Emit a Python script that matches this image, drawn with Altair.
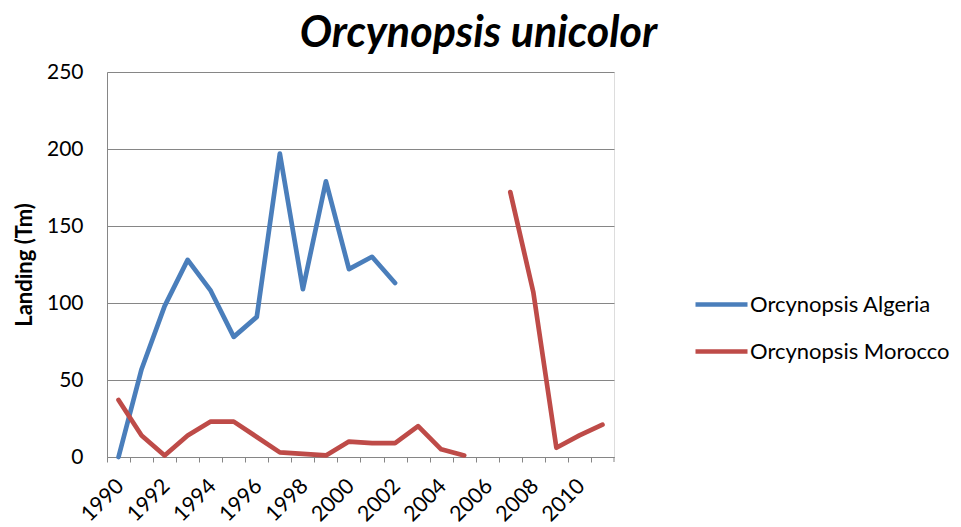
import altair as alt
import pandas as pd

years = list(range(1990, 2012))
algeria = [0, 57, 98, 128, 108, 78, 91, 197, 109, 179, 122, 130, 113,
           None, None, None, None, None, None, None, None, None]
morocco = [37, 14, 1, 14, 23, 23, 13, 3, 2, 1, 10, 9, 9,
           20, 5, 1, None, 172, 107, 6, 14, 21]
series_names = ["Orcynopsis Algeria", "Orcynopsis Morocco"]
series_colors = ["#4A7EBB", "#BE4B48"]

rows = []
seg = 0
for name, vals in zip(series_names, [algeria, morocco]):
    seg += 1
    for y, v in zip(years, vals):
        if v is None:
            seg += 1
            continue
        rows.append({"year": y, "value": v, "series": name, "seg": seg})
df = pd.DataFrame(rows)
end_df = pd.DataFrame({"year": [years[-1]]})

FONT = "Lato"
GRAY = "#868686"
W, H = 507, 385
step = W / 22

xscale = alt.Scale(type="point", domain=years, padding=0.5)

lines = alt.Chart(df).mark_line(strokeWidth=4.7, strokeCap="round", strokeJoin="round").encode(
    x=alt.X("year:O", scale=xscale,
            axis=alt.Axis(title=None, labelAngle=-45, labelAlign="right", labelBaseline="top",
                          labelFontSize=21.5, labelFont=FONT, labelColor="black",
                          labelExpr="datum.value % 2 == 0 ? datum.label : ''",
                          tickOffset=-step / 2, labelOffset=step / 2 - 6,
                          tickSize=5, tickColor=GRAY, domainColor=GRAY, grid=False,
                          labelPadding=13, labelOverlap=False)),
    y=alt.Y("value:Q", scale=alt.Scale(domain=[0, 250], nice=False),
            axis=alt.Axis(title="Landing (Tm)", titleFont=FONT, titleFontSize=22, titleFontWeight="bold",
                          titleColor="black", titlePadding=10,
                          values=[0, 50, 100, 150, 200, 250], labelFontSize=21, labelFont=FONT,
                          labelColor="black", tickSize=0, labelPadding=24,
                          domainColor=GRAY, gridColor=GRAY, grid=True)),
    color=alt.Color("series:N", scale=alt.Scale(domain=series_names, range=series_colors),
                    legend=alt.Legend(title=None, orient="none", legendX=599, legendY=217,
                                      symbolType="M-2,0L2,0", symbolSize=676, symbolStrokeWidth=4.7,
                                      labelFont=FONT, labelFontSize=22, labelColor="black",
                                      labelOffset=13, rowPadding=20, padding=0, labelLimit=0)),
    detail="seg:N",
)

end_tick = alt.Chart(end_df).mark_rule(color=GRAY, strokeWidth=1).encode(
    x=alt.X("year:O", scale=xscale),
    xOffset=alt.value(step / 2),
    y=alt.value(H),
    y2=alt.value(H + 5),
)

chart = alt.layer(lines, end_tick).properties(
    width=W, height=H,
    title=alt.TitleParams("Orcynopsis unicolor", font=FONT, fontSize=43, fontStyle="italic",
                          fontWeight="bold", color="black", anchor="middle", dx=118, offset=5),
).configure_view(stroke=None).configure(padding={"left": 5, "top": 5, "right": 0, "bottom": 0})

chart.save("out.html", embed_options={"renderer": "svg", "actions": False})
